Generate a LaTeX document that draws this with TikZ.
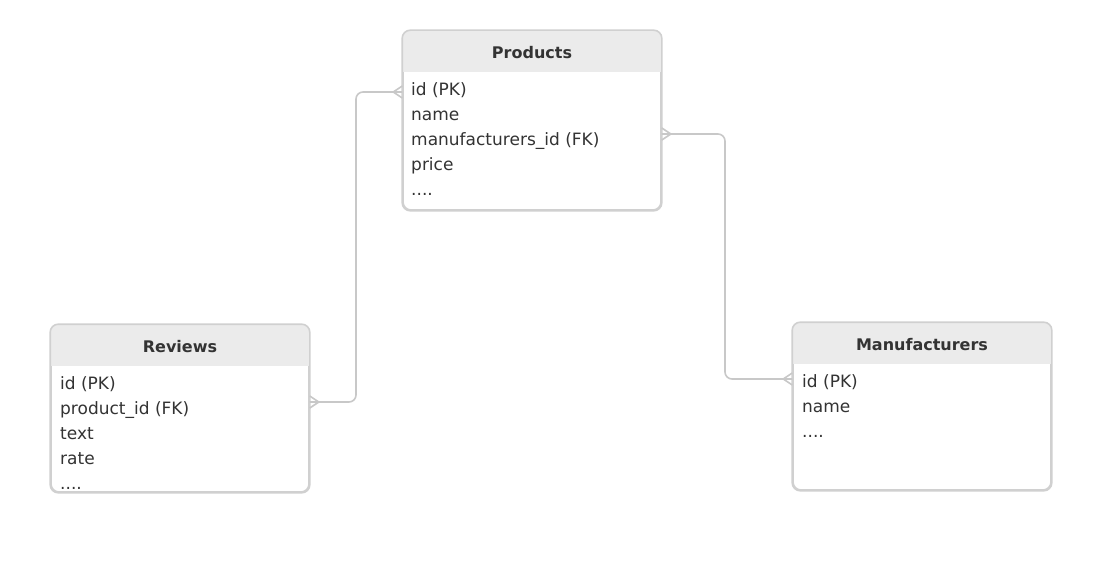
\documentclass[tikz,border=0pt]{standalone}
\usepackage{fontspec}
\setmainfont{DejaVu Sans}
\usetikzlibrary{positioning}
\definecolor{edgegray}{HTML}{D0D0D0}
\definecolor{headgray}{HTML}{EBEBEB}
\definecolor{linkgray}{HTML}{C8C8C8}
\definecolor{inkgray}{HTML}{333333}
\tikzset{
  table/.style={draw=edgegray, line width=1.6pt, rounded corners=8pt, fill=white, inner sep=0pt},
  title/.style={font=\fontsize{16}{18}\selectfont\bfseries, text=inkgray, inner sep=0pt},
  row/.style={font=\fontsize{17}{19}\selectfont, text=inkgray, anchor=west, inner sep=0pt,
    text height=12pt, text depth=4pt},
  link/.style={draw=linkgray, line width=1.6pt},
  crowfoot/.pic={
    \draw[link] (0,-6) -- (9,0) -- (0,6);
    \draw[link] (0,0) -- (9,0);
  }
}
\begin{document}
\begin{tikzpicture}[x=1pt, y=-1pt]
    \useasboundingbox (0,0) rectangle (1118,580);

    % Products table
    \node[table, minimum width=258pt, minimum height=179pt] (prod) at (532,120.5) {};
    \begin{scope}
      \clip[rounded corners=8pt] (prod.south west) rectangle (prod.north east);
      \fill[headgray] (prod.north west) rectangle ([yshift=-42pt]prod.north east);
    \end{scope}
    \draw[table, fill=none] (prod.south west) rectangle (prod.north east);
    \node[title] (prodtitle) at (532,53) {Products};
    \node[row] (prodid) at (411,92) {id (PK)};
    \node[row] (prodname) at (411,117) {name};
    \node[row] (prodfk) at (411,142) {manufacturers\_id (FK)};
    \node[row] (prodprice) at (411,167) {price};
    \node[row] (prodmore) at (411,192) {....};

    % Reviews table
    \node[table, minimum width=258pt, minimum height=167pt] (rev) at (180,408.5) {};
    \begin{scope}
      \clip[rounded corners=8pt] (rev.south west) rectangle (rev.north east);
      \fill[headgray] (rev.north west) rectangle ([yshift=-42pt]rev.north east);
    \end{scope}
    \draw[table, fill=none] (rev.south west) rectangle (rev.north east);
    \node[title] (revtitle) at (180,347) {Reviews};
    \node[row] (revid) at (60,385) {id (PK)};
    \node[row] (revfk) at (60,410) {product\_id (FK)};
    \node[row] (revtext) at (60,435) {text};
    \node[row] (revrate) at (60,460) {rate};
    \node[row] (revmore) at (60,485) {....};

    % Manufacturers table
    \node[table, minimum width=258pt, minimum height=167pt] (manu) at (922,406.5) {};
    \begin{scope}
      \clip[rounded corners=8pt] (manu.south west) rectangle (manu.north east);
      \fill[headgray] (manu.north west) rectangle ([yshift=-42pt]manu.north east);
    \end{scope}
    \draw[table, fill=none] (manu.south west) rectangle (manu.north east);
    \node[title] (manutitle) at (922,345) {Manufacturers};
    \node[row] (manuid) at (802,383) {id (PK)};
    \node[row] (manuname) at (802,408) {name};
    \node[row] (manumore) at (802,433) {....};

    % Link ends
    \coordinate (prodleft) at (prod.west |- 0,92);
    \coordinate (prodright) at (prod.east |- 0,134);
    \coordinate (revright) at (rev.east |- 0,402);
    \coordinate (manuleft) at (manu.west |- 0,379);

    % Reviews -- Products
    \draw[link, rounded corners=7pt] (revright) -| (356,250) |- (prodleft);
    \pic[rotate=180] at (prodleft) {crowfoot};
    \pic at (revright) {crowfoot};

    % Products -- Manufacturers
    \draw[link, rounded corners=7pt] (prodright) -| (725,250) |- (manuleft);
    \pic at (prodright) {crowfoot};
    \pic[rotate=180] at (manuleft) {crowfoot};
\end{tikzpicture}
\end{document}
